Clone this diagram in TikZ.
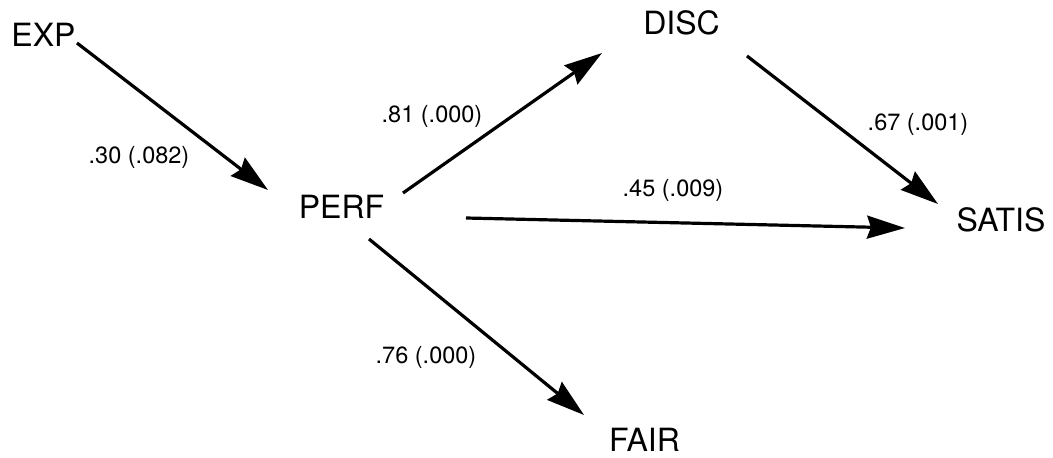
\documentclass[tikz,border=0pt]{standalone}
\usepackage{fontspec}
\setmainfont{TeX Gyre Heros}
\usetikzlibrary{arrows.meta}
\begin{document}
\begin{tikzpicture}[x=1pt,y=-1pt,
  var/.style={inner sep=0pt,font=\fontsize{32}{38}\selectfont},
  coef/.style={inner sep=0pt,font=\fontsize{23.5}{28}\selectfont},
  path/.style={line width=3.2pt,-{Stealth[length=38pt,width=23pt,inset=4pt]}}]
\useasboundingbox (0,0) rectangle (1053,458);
\node[var] (exp) at (43.5,35) {EXP};
\node[var] (perf) at (341.5,206.5) {PERF};
\node[var] (disc) at (681.5,22.5) {DISC};
\node[var] (satis) at (1001,220) {SATIS};
\node[var] (fair) at (644.5,440) {FAIR};
\draw[path] ([shift={(33.5,8)}]exp.center) -- ([shift={(-73.5,-16.5)}]perf.center);
\draw[path] ([shift={(61.5,-13.5)}]perf.center) -- ([shift={(-79.5,30.5)}]disc.center);
\draw[path] ([shift={(27.5,32.5)}]perf.center) -- ([shift={(-60.5,-25)}]fair.center);
\draw[path] ([shift={(124.5,11.5)}]perf.center) -- ([shift={(-96,8)}]satis.center);
\draw[path] ([shift={(65.5,33.5)}]disc.center) -- ([shift={(-63,-16)}]satis.center);
\node[coef] (l1) at (139,157) {.30 (.082)};
\node[coef] (l2) at (432,116) {.81 (.000)};
\node[coef] (l3) at (426,357) {.76 (.000)};
\node[coef] (l4) at (673,190) {.45 (.009)};
\node[coef] (l5) at (918,124) {.67 (.001)};
\end{tikzpicture}
\end{document}
